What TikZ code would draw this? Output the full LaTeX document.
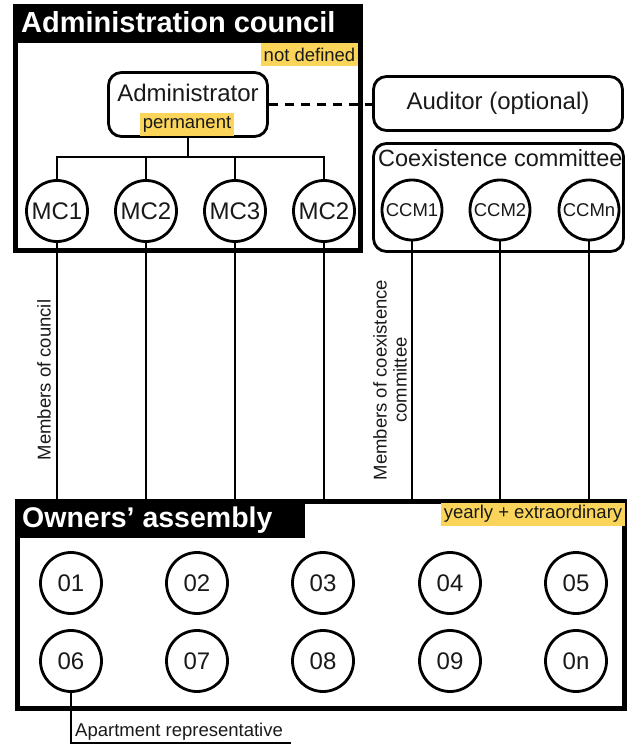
\documentclass[tikz,border=0pt]{standalone}
\usepackage{fontspec}
\setmainfont{Liberation Sans}
\definecolor{hly}{RGB}{250,213,90}
\definecolor{ink}{RGB}{25,25,25}
\begin{document}
\begin{tikzpicture}[x=1pt,y=-1pt,
  every node/.style={text=ink},
  hl/.style={fill=hly, inner xsep=3pt, inner ysep=0pt, minimum height=23pt, font=\fontsize{18.5}{20}\selectfont},
  circ/.style={circle, draw=black, line width=2.8pt, minimum size=61pt, inner sep=0pt},
  rbox/.style={draw=black, line width=2.8pt, rounded corners=13pt},
  treeline/.style={line width=2.5pt},
  conn/.style={line width=2pt},
  title/.style={text=white, inner sep=0pt, anchor=base west},
  big/.style={font=\fontsize{24}{28}\selectfont},
  small/.style={font=\fontsize{18.5}{20}\selectfont},
]
\useasboundingbox (0,0) rectangle (626,746);

% Administration council
\node[draw=black, line width=5pt, minimum width=345pt, minimum height=244pt, inner sep=0pt] (ac) at (188,128.5) {};
\node[fill=black, anchor=north west, minimum width=350pt, minimum height=39pt, inner sep=0pt] (acbar) at (13,4) {};
\node[title, font=\fontsize{29}{32}\selectfont\bfseries] (actitle) at (21,33) {Administration council};
\node[hl] (nd) at (309.5,54.5) {not defined};

\node[rbox, minimum width=159pt, minimum height=64pt] (adm) at (188,104.5) {};
\node[big, inner sep=0pt, anchor=base] (admt) at (188,102) {Administrator};
\node[hl] (perm) at (187,124.5) {permanent};

\foreach \n/\x/\t in {mc1/57/MC1, mc2/146/MC2, mc3/235/MC3, mc4/324/MC2}
  \node[circ, big] (\n) at (\x,211) {\t};

\coordinate (tj) at (188,157);
\draw[treeline] (adm.south) -- (tj);
\draw[treeline] (mc1.north) |- (tj) -| (mc4.north);
\draw[treeline] (mc2.north) -- (mc2.north |- tj);
\draw[treeline] (mc3.north) -- (mc3.north |- tj);

% Auditor
\node[rbox, big, minimum width=249pt, minimum height=54pt] (aud) at (498,103.5) {Auditor (optional)};
\draw[line width=2.5pt, dash pattern=on 9pt off 7pt] (adm.east) -- (adm.east -| aud.west);

% Coexistence committee
\node[rbox, minimum width=250pt, minimum height=108pt] (cc) at (498.5,197.5) {};
\node[font=\fontsize{23.5}{26}\selectfont, anchor=base west, inner sep=0pt] (cct) at (378,167) {Coexistence committee};
\foreach \n/\x/\t in {ccm1/412/CCM1, ccm2/500/CCM2, ccm3/589/CCMn}
  \node[circ, minimum size=60pt, font=\fontsize{18.5}{20}\selectfont] (\n) at (\x,210) {\t};

% Owners' assembly
\node[draw=black, line width=5pt, minimum width=606.5pt, minimum height=207pt, inner sep=0pt] (ob) at (320.75,605) {};
\node[fill=black, anchor=north west, minimum width=290pt, minimum height=39pt, inner sep=0pt] (obbar) at (15,499) {};
\node[title, font=\fontsize{28.5}{32}\selectfont\bfseries] (obt) at (22,527) {Owners’ assembly};
\node[hl] (yr) at (533,514) {yearly + extraordinary};

\foreach \n/\x/\y/\t in {o1/71/583/01, o2/197/583/02, o3/323/583/03, o4/450/583/04, o5/576/583/05,
                         o6/71/661/06, o7/197/661/07, o8/323/661/08, o9/450/661/09, o10/576/661/0n}
  \node[circ, big] (\n) at (\x,\y) {\t};

% connectors council / committee -> assembly
\foreach \n in {mc1,mc2,mc3,mc4,ccm1,ccm2,ccm3}
  \draw[conn] (\n.south) -- (\n.south |- ob.north);

\node[small, rotate=90] (mcl) at (44,380) {Members of council};
\node[small, rotate=90, align=center] (ccl) at (390,380) {Members of coexistence\\committee};

% apartment representative
\coordinate (ar) at (291,743);
\draw[line width=1.5pt] (o6.south) |- (ar);
\node[small, anchor=base west, inner sep=0pt] (art) at (75,736) {Apartment representative};
\end{tikzpicture}
\end{document}
